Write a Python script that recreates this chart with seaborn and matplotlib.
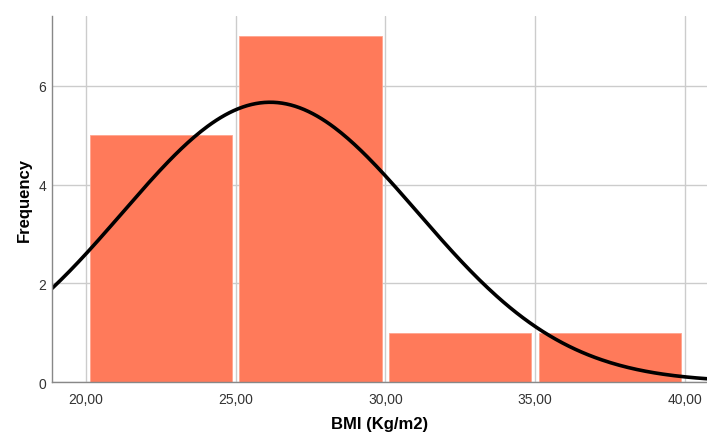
import numpy as np
import pandas as pd
import seaborn as sns
from matplotlib import pyplot as plt

# histogram bins
bin_edges = [20, 25, 30, 35, 40]
counts = [5, 7, 1, 1]
x_ticks = [20, 25, 30, 35, 40]
x_tick_labels = ["20,00", "25,00", "30,00", "35,00", "40,00"]
y_ticks = [0, 2, 4, 6]

# normal curve parameters (SPSS overlay)
mean_bmi = 26.15
sd_bmi = 4.93
n_total = 14
bin_width = 5

sns.set_style("white")
plt.rcParams['font.family'] = ['Liberation Sans', 'DejaVu Sans']

mids = [(bin_edges[i] + bin_edges[i + 1]) / 2 for i in range(len(counts))]
df = pd.DataFrame({"bmi": mids, "count": counts})

fig = plt.figure(figsize=(7.07, 4.35), dpi=100)
ax = fig.add_axes([0.0736, 0.119, 0.9264, 0.842])

sns.histplot(data=df, x="bmi", weights="count", bins=bin_edges, shrink=0.95,
             color="#FF7A5A", alpha=1, edgecolor="#FFA58F", linewidth=0.6, ax=ax)

# normal curve
xs = np.linspace(18.86, 40.75, 300)
ys = n_total * bin_width / (sd_bmi * np.sqrt(2 * np.pi)) * np.exp(-(xs - mean_bmi) ** 2 / (2 * sd_bmi ** 2))
sns.lineplot(x=xs, y=ys, color="black", linewidth=2.6, ax=ax)

ax.set_xlim(18.86, 40.75)
ax.set_ylim(0, 7.41)
ax.set_xticks(x_ticks)
ax.set_xticklabels(x_tick_labels)
ax.set_yticks(y_ticks)
ax.grid(True, color="#CCCCCC", linewidth=1)
ax.set_axisbelow(True)
ax.tick_params(axis="both", length=0, labelsize=10, colors="#333333")
ax.tick_params(axis="x", pad=7)
ax.tick_params(axis="y", pad=4)

for side in ["top", "right"]:
    ax.spines[side].set_visible(False)
for side in ["left", "bottom"]:
    ax.spines[side].set_color("#888888")
    ax.spines[side].set_linewidth(1)

ax.set_xlabel("BMI (Kg/m2)", fontsize=12, fontweight="bold", labelpad=7, color="black")
ax.set_ylabel("Frequency", fontsize=12, fontweight="bold", labelpad=5, color="black")

fig.savefig("out.png", dpi=100)
